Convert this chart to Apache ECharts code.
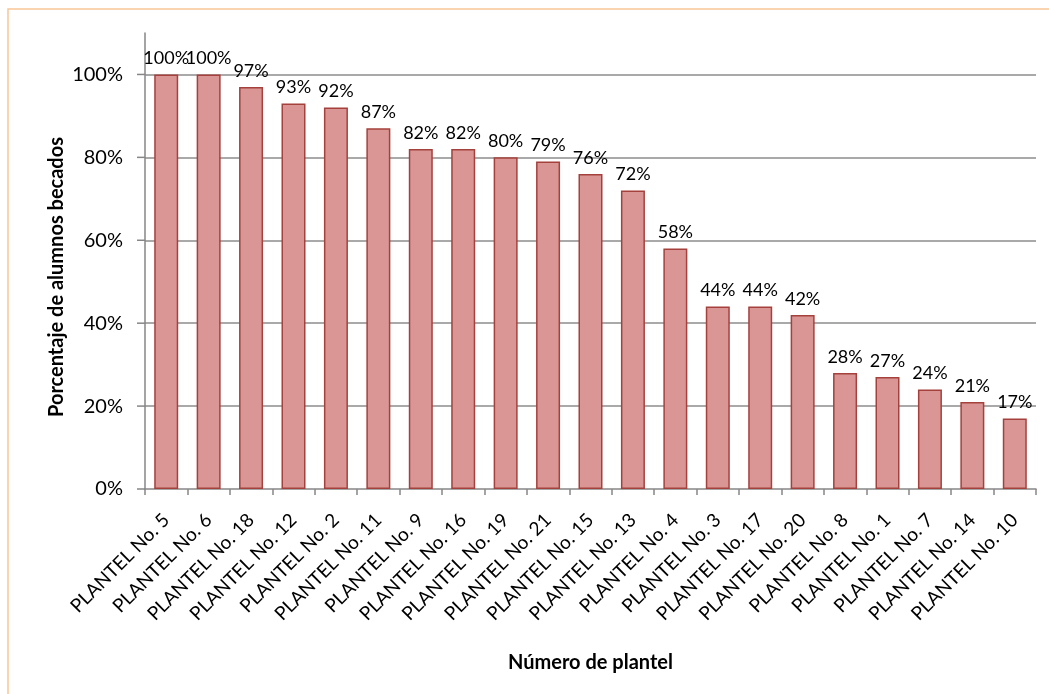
<!DOCTYPE html>
<html><head><meta charset="utf-8">
<script src="https://cdn.jsdelivr.net/npm/echarts@6/dist/echarts.min.js"></script>
<style>html,body{margin:0;padding:0;background:#fff}#c{width:1049px;height:694px}</style>
</head><body><div id="c"></div>
<script>
const categories = ["PLANTEL No. 5","PLANTEL No. 6","PLANTEL No. 18","PLANTEL No. 12","PLANTEL No. 2","PLANTEL No. 11","PLANTEL No. 9","PLANTEL No. 16","PLANTEL No. 19","PLANTEL No. 21","PLANTEL No. 15","PLANTEL No. 13","PLANTEL No. 4","PLANTEL No. 3","PLANTEL No. 17","PLANTEL No. 20","PLANTEL No. 8","PLANTEL No. 1","PLANTEL No. 7","PLANTEL No. 14","PLANTEL No. 10"];
const values = [1.00,1.00,0.97,0.93,0.92,0.87,0.82,0.82,0.80,0.79,0.76,0.72,0.58,0.44,0.44,0.42,0.28,0.27,0.24,0.21,0.17];
const yTicks = [0,0.2,0.4,0.6,0.8,1.0];
const yTitle = 'Porcentaje de alumnos becados';
const xTitle = 'Número de plantel';
const FONT = 'Lato';
const chart = echarts.init(document.getElementById('c'));
const frame = {type:'rect',shape:{x:8,y:9,width:1060,height:700},style:{fill:'none',stroke:'#f9c597',lineWidth:1.5},z:-1};
const yTitleG = {type:'text',x:57,y:277,rotation:Math.PI/2,
  style:{text:yTitle,fontFamily:FONT,fontWeight:'bold',fontSize:20,fill:'#000',align:'center',verticalAlign:'middle'}};
chart.setOption({
  animation:false,
  backgroundColor:'#fff',
  grid:{left:145,right:13,top:33,bottom:205},
  xAxis:{type:'category',data:categories,
    axisLine:{lineStyle:{color:'#868686',width:1.5}},
    axisTick:{show:true,length:6,lineStyle:{color:'#868686',width:1.5}},
    axisLabel:{rotate:45,margin:28,color:'#000',fontFamily:FONT,fontSize:19,interval:0},
    name:xTitle,nameLocation:'middle',nameGap:164,
    nameTextStyle:{fontFamily:FONT,fontWeight:'bold',fontSize:20,color:'#000'}},
  yAxis:{type:'value',min:0,max:1.1,interval:0.1,
    axisLine:{show:true,lineStyle:{color:'#868686',width:1.5}},
    axisTick:{show:false},
    splitLine:{show:false},
    axisLabel:{color:'#000',fontFamily:FONT,fontSize:20,margin:22,
      formatter:v=>{const r=Math.round(v*100);return (r%20===0 && r<=100)? r+'%':'';}}},
  series:[{type:'bar',data:values,barWidth:24,
    itemStyle:{color:'#d99694',borderColor:'#a5413d',borderWidth:1.5},
    label:{show:true,position:'top',distance:7,color:'#000',fontFamily:FONT,fontSize:18,
      formatter:p=>Math.round(p.value*100)+'%'},
    markLine:{silent:true,symbol:'none',label:{show:false},z:0,
      lineStyle:{color:'#8c8c8c',width:1.5,type:'solid'},
      data:yTicks.filter(t=>t>0).map(t=>({yAxis:t}))}
  }]
});
const ticksG = yTicks.map(t=>{const p=chart.convertToPixel({yAxisIndex:0},t);return {type:'line',shape:{x1:137,y1:p,x2:145,y2:p},style:{stroke:'#868686',lineWidth:1.5}};});
chart.setOption({graphic:[frame,yTitleG].concat(ticksG)});
</script></body></html>
